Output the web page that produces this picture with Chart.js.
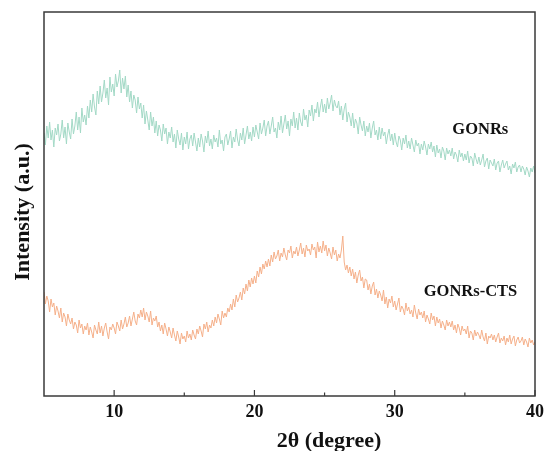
<!DOCTYPE html>
<html>
<head>
<meta charset="utf-8">
<script src="https://cdn.jsdelivr.net/npm/chart.js@4/dist/chart.umd.min.js"></script>
<style>
  html, body { margin: 0; padding: 0; background: #fff; }
  #wrap { width: 547px; height: 451px; }
</style>
</head>
<body>
<div id="wrap"><canvas id="xrd"></canvas></div>
<script>
// 2theta sampling grid (degrees)
const thetaStart = 5;
const thetaStep = 0.1;

const xTicks = [10, 20, 30, 40];
const minorTicks = [15, 25, 35];

// intensity (a.u.), one row per degree
const gonrs = [
  263, 251, 270, 258, 274, 256, 266, 249, 268, 261,
  272, 255, 262, 276, 258, 269, 252, 273, 264, 257,
  277, 262, 270, 284, 266, 279, 263, 288, 274, 281,
  271, 290, 278, 296, 284, 302, 289, 281, 305, 292,
  310, 294, 303, 316, 298, 308, 291, 319, 304, 312,
  300, 322, 309, 315, 326, 303, 318, 307, 320, 299,
  311, 294, 305, 288, 301, 296, 283, 299, 287, 293,
  278, 291, 272, 285, 276, 266, 284, 270, 279, 263,
  275, 260, 271, 266, 255, 272, 262, 268, 252, 264,
  258, 269, 254, 262, 248, 266, 257, 251, 263, 246,
  259, 252, 264, 247, 257, 261, 250, 263, 254, 245,
  258, 249, 262, 255, 244, 260, 253, 265, 250, 257,
  247, 261, 254, 258, 249, 266, 252, 256, 245, 259,
  262, 251, 257, 265, 248, 259, 254, 267, 256, 250,
  263, 256, 268, 252, 261, 270, 257, 264, 255, 269,
  259, 271, 264, 257, 273, 262, 268, 276, 260, 270,
  275, 262, 270, 279, 264, 268, 258, 274, 266, 280,
  263, 272, 281, 267, 275, 260, 277, 270, 284, 268,
  278, 266, 283, 274, 270, 287, 276, 281, 269, 286,
  280, 291, 275, 287, 283, 294, 279, 289, 297, 284,
  292, 283, 298, 287, 293, 301, 285, 296, 290, 288,
  295, 281, 290, 276, 287, 293, 274, 284, 279, 270,
  283, 268, 277, 273, 262, 279, 271, 265, 275, 260,
  270, 264, 273, 258, 268, 275, 261, 266, 256, 269,
  257, 268, 260, 264, 252, 261, 267, 255, 262, 251,
  263, 254, 249, 260, 256, 246, 258, 252, 261, 248,
  255, 247, 258, 251, 244, 256, 250, 253, 242, 252,
  246, 255, 249, 241, 252, 247, 254, 244, 250, 239,
  251, 243, 247, 238, 249, 245, 236, 248, 242, 246,
  240, 248, 237, 244, 241, 234, 246, 239, 243, 235,
  242, 236, 245, 233, 240, 238, 230, 243, 237, 232,
  239, 231, 236, 242, 229, 235, 238, 227, 236, 233,
  230, 237, 226, 233, 235, 224, 231, 236, 228, 232,
  235, 226, 230, 222, 232, 228, 234, 224, 229, 231,
  224, 230, 227, 221, 229, 225, 219, 228, 224, 230,
  223
];

const gonrsCts = [
  104, 92, 100, 95, 84, 97, 89, 93, 81, 90,
  85, 78, 88, 74, 83, 79, 70, 82, 76, 72,
  78, 67, 74, 71, 63, 76, 68, 72, 62, 70,
  66, 73, 61, 69, 64, 58, 71, 66, 62, 74,
  63, 70, 60, 68, 73, 64, 57, 69, 66, 72,
  68, 62, 74, 70, 65, 76, 67, 72, 79, 69,
  73, 80, 70, 77, 84, 75, 71, 82, 78, 86,
  79, 88, 76, 84, 80, 74, 85, 71, 78, 75,
  80, 69, 74, 65, 71, 62, 73, 67, 60, 69,
  64, 58, 68, 61, 55, 65, 59, 52, 63, 57,
  60, 54, 65, 58, 62, 56, 66, 61, 57, 67,
  62, 70, 65, 59, 72, 67, 74, 64, 71, 68,
  76, 70, 79, 73, 82, 77, 71, 85, 78, 83,
  79, 88, 84, 92, 86, 97, 89, 101, 94, 98,
  104, 96, 108, 102, 112, 105, 116, 109, 118, 112,
  120, 113, 125, 119, 129, 122, 132, 127, 135, 129,
  137, 130, 141, 134, 144, 137, 140, 146, 135, 143,
  139, 148, 141, 136, 146, 143, 150, 138, 145, 142,
  149, 140, 146, 153, 142, 148, 139, 151, 145, 147,
  141, 152, 146, 149, 138, 154, 144, 150, 143, 155,
  145, 151, 140, 148, 143, 137, 149, 141, 146, 135,
  142, 138, 146, 160, 134, 126, 131, 123, 129, 120,
  127, 117, 124, 113, 121, 126, 115, 119, 108, 117,
  116, 106, 112, 102, 110, 114, 101, 107, 98, 105,
  101, 95, 106, 92, 99, 88, 97, 93, 100, 89,
  95, 86, 92, 98, 84, 90, 87, 81, 93, 85,
  89, 82, 86, 79, 91, 83, 77, 87, 81, 84,
  78, 85, 74, 81, 77, 72, 83, 76, 80, 70,
  79, 73, 77, 68, 75, 71, 66, 76, 70, 74,
  69, 75, 66, 71, 63, 72, 68, 61, 70, 65,
  67, 62, 70, 58, 65, 63, 56, 66, 60, 64,
  61, 57, 66, 59, 55, 63, 52, 60, 58, 62,
  56, 61, 54, 59, 63, 53, 58, 55, 60, 51,
  58, 54, 61, 52, 57, 60, 50, 56, 59, 53,
  55, 59, 51, 57, 54, 49, 58, 53, 56, 51,
  54
];

const seriesLabels = [
  { text: "GONRs", x: 36.1, y: 266 },
  { text: "GONRs-CTS", x: 35.4, y: 104 }
];

const toPoints = (arr) => arr.map((v, i) => ({
  x: +(thetaStart + i * thetaStep).toFixed(2),
  y: v
}));

const serif = "'Liberation Serif', 'Times New Roman', serif";

// frame, inward ticks, axis titles, curve labels
const decorations = {
  id: "decorations",
  afterDraw(chart) {
    const { ctx, chartArea: a, scales } = chart;
    const xs = scales.x, ys = scales.y;
    ctx.save();
    ctx.strokeStyle = "#3a3a3a";
    ctx.lineWidth = 1.5;
    ctx.strokeRect(a.left, a.top, a.right - a.left, a.bottom - a.top);

    ctx.lineWidth = 1.2;
    ctx.beginPath();
    xTicks.forEach(t => {
      const px = xs.getPixelForValue(t);
      ctx.moveTo(px, a.bottom);
      ctx.lineTo(px, a.bottom - 6);
    });
    minorTicks.forEach(t => {
      const px = xs.getPixelForValue(t);
      ctx.moveTo(px, a.bottom);
      ctx.lineTo(px, a.bottom - 3.5);
    });
    ctx.stroke();

    ctx.fillStyle = "#111";
    ctx.font = "bold 22px " + serif;
    ctx.textAlign = "center";
    ctx.textBaseline = "middle";
    ctx.fillText("2\u03b8 (degree)", 329, 441);

    ctx.save();
    ctx.translate(23, 212);
    ctx.rotate(-Math.PI / 2);
    ctx.fillText("Intensity (a.u.)", 0, 0);
    ctx.restore();

    ctx.font = "bold 16.5px " + serif;
    seriesLabels.forEach(l => {
      ctx.fillText(l.text, xs.getPixelForValue(l.x), ys.getPixelForValue(l.y));
    });
    ctx.restore();
  }
};

new Chart(document.getElementById("xrd"), {
  type: "line",
  data: {
    datasets: [
      {
        label: "GONRs",
        data: toPoints(gonrs),
        borderColor: "#a3d9c6",
        borderWidth: 1,
        pointRadius: 0,
        tension: 0
      },
      {
        label: "GONRs-CTS",
        data: toPoints(gonrsCts),
        borderColor: "#f5b08a",
        borderWidth: 1,
        pointRadius: 0,
        tension: 0
      }
    ]
  },
  options: {
    responsive: true,
    maintainAspectRatio: false,
    animation: false,
    layout: { padding: { left: 0, right: 12, top: 12, bottom: 0 } },
    plugins: {
      legend: { display: false },
      tooltip: { enabled: false }
    },
    scales: {
      x: {
        type: "linear",
        min: 5,
        max: 40,
        afterBuildTicks: (s) => { s.ticks = xTicks.map(v => ({ value: v })); },
        afterFit: (s) => { s.height = 55; s.paddingRight = 0; s.paddingLeft = 0; },
        grid: { display: false, drawTicks: false },
        border: { display: false },
        ticks: {
          padding: 6,
          color: "#111",
          font: { family: serif, size: 18, weight: "bold" }
        }
      },
      y: {
        min: 0,
        max: 384,
        afterFit: (s) => { s.width = 44; },
        grid: { display: false, drawTicks: false },
        border: { display: false },
        ticks: { display: false }
      }
    }
  },
  plugins: [decorations]
});
</script>
</body>
</html>
